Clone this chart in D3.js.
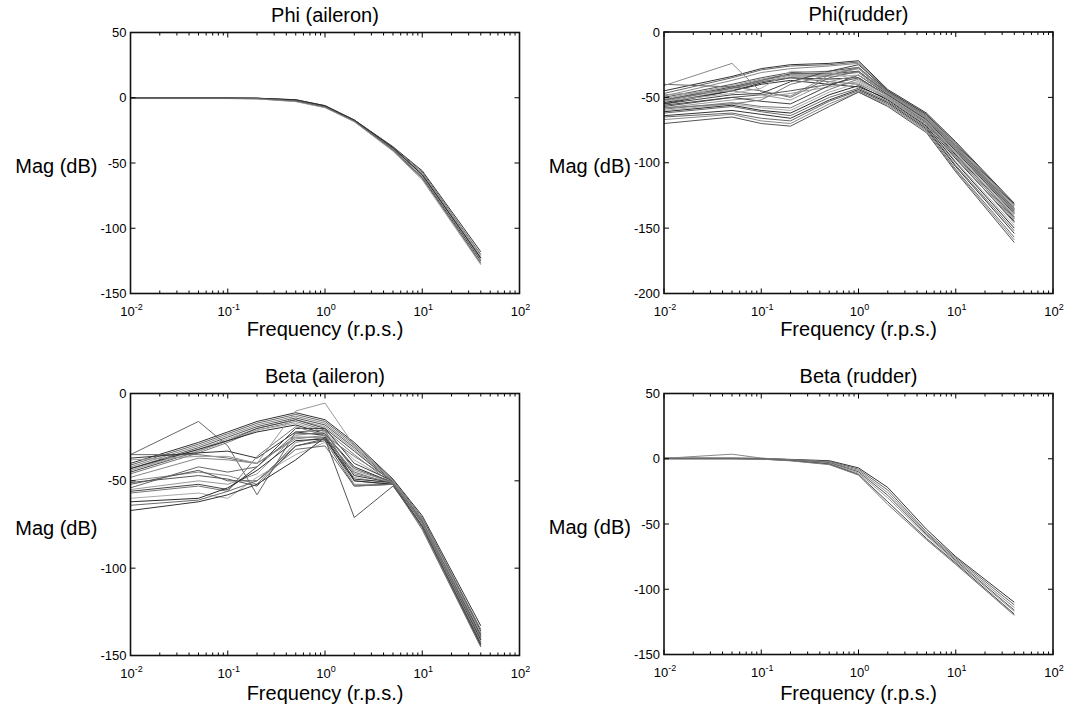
<!DOCTYPE html>
<html>
<head>
<meta charset="utf-8">
<script src="https://cdn.jsdelivr.net/npm/d3@7"></script>
<style>
  body { margin: 0; background: #fff; }
  svg { display: block; font-family: "Liberation Sans", Arial, Helvetica, sans-serif; }
</style>
</head>
<body>
<svg id="chart" width="1066" height="713"></svg>
<script>
// ---------------- DATA ----------------
const freqs = [0.01, 0.05, 0.1, 0.2, 0.5, 1, 2, 5, 10, 40];

const phiAileron = [
  [-0.3,-0.3,-0.3,-0.4,-1.5,-6.0,-17.0,-37.5,-56,-118],
  [-0.3,-0.3,-0.3,-0.4,-1.8,-6.3,-17.2,-38.0,-57,-120],
  [-0.4,-0.4,-0.4,-0.5,-2.0,-6.5,-17.4,-38.5,-58,-121],
  [-0.4,-0.4,-0.4,-0.5,-2.2,-6.7,-17.6,-39.0,-59,-122.5],
  [-0.5,-0.5,-0.5,-0.6,-2.4,-7.0,-17.8,-39.5,-60,-124],
  [-0.5,-0.5,-0.5,-0.7,-2.6,-7.2,-18.0,-40.0,-61,-125],
  [-0.6,-0.6,-0.6,-0.8,-2.8,-7.4,-18.2,-40.5,-62,-126.5],
  [-0.6,-0.6,-0.6,-0.9,-3.0,-7.6,-18.4,-41.0,-63,-128],
  [-0.2,-0.2,-0.2,-0.3,-1.6,-6.2,-17.1,-38.2,-59,-123],
  [-0.5,-0.5,-0.5,-0.6,-2.5,-7.1,-17.9,-39.8,-61.5,-127]
];

const phiRudder = [
  [-45,-34,-28,-25,-24,-22,-44,-62,-84,-131],
  [-47,-35,-29,-26,-25,-23,-45,-63,-86,-133],
  [-49,-37,-31,-28,-26,-24,-46,-64,-87,-134],
  [-50,-40,-35,-31,-30,-27,-46,-65,-88,-135],
  [-51,-41,-36,-32,-31,-28,-47,-66,-89,-136],
  [-52,-42,-37,-32,-32,-30,-47,-66,-90,-137],
  [-53,-43,-37,-33,-33,-31,-48,-67,-91,-138],
  [-54,-44,-38,-34,-34,-33,-48,-68,-92,-140],
  [-55,-45,-39,-35,-36,-35,-49,-69,-94,-141],
  [-52,-43,-38,-35,-38,-40,-50,-70,-95,-143],
  [-54,-45,-40,-37,-40,-42,-51,-71,-97,-145],
  [-40,-42,-45,-50,-35,-30,-47,-66,-89,-137],
  [-41,-24,-46,-49,-33,-28,-46,-65,-88,-136],
  [-57,-50,-48,-45,-40,-35,-49,-68,-93,-142],
  [-58,-52,-50,-47,-42,-38,-50,-69,-95,-144],
  [-56,-50,-53,-55,-41,-33,-48,-67,-91,-139],
  [-59,-54,-57,-58,-44,-36,-49,-69,-96,-146],
  [-60,-55,-58,-60,-46,-39,-51,-71,-99,-148],
  [-61,-56,-60,-62,-48,-41,-52,-72,-100,-150],
  [-62,-57,-61,-64,-50,-43,-53,-73,-102,-152],
  [-64,-60,-63,-66,-52,-44,-54,-74,-103,-154],
  [-65,-62,-66,-68,-53,-45,-55,-75,-105,-157],
  [-67,-63,-68,-70,-55,-46,-56,-76,-106,-159],
  [-70,-65,-70,-72,-57,-46,-57,-77,-107,-161],
  [-48,-45,-48,-52,-38,-33,-47,-66,-90,-138],
  [-55,-48,-47,-38,-30,-25,-45,-63,-85,-132],
  [-58,-55,-52,-40,-33,-27,-46,-64,-87,-135],
  [-53,-47,-43,-30,-31,-37,-49,-68,-93,-141]
];

const betaAileron = [
  [-40,-28,-22,-16,-11,-15,-28,-49,-70,-133],
  [-41,-29,-23,-17,-12,-16,-29,-49.5,-71,-135],
  [-42,-30,-24,-18,-13,-17,-30,-50,-72,-137],
  [-43,-31,-25,-19,-14,-18,-31,-50.5,-73,-139],
  [-44,-32,-26,-20,-15,-19,-32,-51,-74,-141],
  [-45,-33,-27,-20,-15,-20,-33,-51,-76,-143],
  [-46,-34,-28,-21,-16,-21,-35,-52,-78,-145],
  [-44,-33,-27,-21,-17,-22,-38,-51,-74,-140],
  [-43,-32,-27,-22,-18,-23,-42,-51,-73,-138],
  [-35,-35,-37,-40,-25,-25,-45,-52,-75,-141],
  [-37,-34,-33,-37,-22,-24,-47,-51,-74,-140],
  [-35,-16,-30,-58,-22,-21,-50,-52,-75,-142],
  [-50,-45,-47,-52,-28,-25,-52,-52,-76,-143],
  [-52,-44,-50,-50,-30,-27,-53,-52,-74,-139],
  [-55,-50,-52,-46,-24,-22,-44,-51,-73,-137],
  [-56,-52,-55,-42,-20,-20,-40,-50,-72,-136],
  [-57,-53,-56,-36,-19,-24,-36,-50,-74,-140],
  [-60,-57,-60,-48,-35,-28,-48,-52,-75,-142],
  [-62,-60,-54,-44,-27,-26,-50,-52,-76,-144],
  [-64,-61,-56,-50,-32,-30,-53,-52,-77,-145],
  [-67,-62,-58,-52,-38,-25,-49,-51,-74,-141],
  [-54,-42,-45,-42,-23,-23,-43,-51,-73,-139],
  [-48,-37,-38,-40,-26,-24,-46,-51,-74,-140],
  [-51,-47,-49,-53,-30,-26,-71,-53,-76,-143],
  [-38,-36,-36,-40,-10,-5.5,-30,-50,-72,-137]
];

const betaRudder = [
  [0.5,0.5,0.3,-0.5,-1.5,-7,-22,-54,-75,-110],
  [0.4,0.4,0.2,-0.7,-2.0,-8,-24,-56,-76,-112],
  [0.3,3.5,0.5,-0.8,-2.5,-9,-26,-57,-77,-114],
  [0.2,0.2,0,-1.0,-3.0,-10,-28,-58,-78,-116],
  [0.1,0.1,-0.1,-1.2,-3.5,-11,-30,-59,-79,-117],
  [0,0,-0.2,-1.4,-4.0,-12,-33,-61,-80,-119],
  [-0.1,-0.1,-0.3,-1.6,-4.5,-12.5,-35,-62,-81,-120]
];

const titles = ["Phi (aileron)", "Phi(rudder)", "Beta (aileron)", "Beta (rudder)"];
const yTicksPhiAil = [50, 0, -50, -100, -150];
const yTicksPhiRud = [0, -50, -100, -150, -200];
const yTicksBetaAil = [0, -50, -100, -150];
const yTicksBetaRud = [50, 0, -50, -100, -150];
const xMajor = [0.01, 0.1, 1, 10, 100];
const xExponents = ["-2", "-1", "0", "1", "2"];

// ---------------- STYLE / LAYOUT ----------------
const palette = ["#333", "#666", "#888", "#555", "#999", "#444", "#777", "#aaa", "#2a2a2a", "#6a6a6a"];

const panels = [
  { title: titles[0], data: phiAileron, yDomain: [-150, 50], yTicks: yTicksPhiAil, x: 130.5, y: 32.5, w: 389, h: 261 },
  { title: titles[1], data: phiRudder, yDomain: [-200, 0], yTicks: yTicksPhiRud, x: 664, y: 32, w: 389, h: 261.5 },
  { title: titles[2], data: betaAileron, yDomain: [-150, 0], yTicks: yTicksBetaAil, x: 130.5, y: 393.5, w: 389, h: 262 },
  { title: titles[3], data: betaRudder, yDomain: [-150, 50], yTicks: yTicksBetaRud, x: 664, y: 393.5, w: 389, h: 261 }
];
const freqLabelY = [336, 336, 700, 700];

const svg = d3.select("#chart");

panels.forEach((p, pi) => {
  const g = svg.append("g").attr("transform", `translate(${p.x},${p.y})`);
  const xs = d3.scaleLog().domain([0.01, 100]).range([0, p.w]);
  const ys = d3.scaleLinear().domain(p.yDomain).range([p.h, 0]);

  const clipId = "clip" + pi;
  g.append("clipPath").attr("id", clipId).append("rect").attr("width", p.w).attr("height", p.h);

  const line = d3.line().x((d, i) => xs(freqs[i])).y(d => ys(d));
  g.append("g").attr("clip-path", `url(#${clipId})`)
    .selectAll("path").data(p.data).join("path")
    .attr("d", d => line(d))
    .attr("fill", "none")
    .attr("stroke", (d, i) => palette[i % palette.length])
    .attr("stroke-width", 1);

  // minor ticks
  const minor = [];
  for (let e = -2; e < 2; e++) for (let m = 2; m <= 9; m++) minor.push(m * Math.pow(10, e));
  const tg = g.append("g").attr("stroke", "#000").attr("stroke-width", 1);
  minor.forEach(v => {
    const x = xs(v);
    tg.append("line").attr("x1", x).attr("x2", x).attr("y1", p.h).attr("y2", p.h - 3);
    tg.append("line").attr("x1", x).attr("x2", x).attr("y1", 0).attr("y2", 3);
  });
  xMajor.forEach(v => {
    const x = xs(v);
    tg.append("line").attr("x1", x).attr("x2", x).attr("y1", p.h).attr("y2", p.h - 5);
    tg.append("line").attr("x1", x).attr("x2", x).attr("y1", 0).attr("y2", 5);
  });
  p.yTicks.forEach(v => {
    const y = ys(v);
    tg.append("line").attr("x1", 0).attr("x2", 5).attr("y1", y).attr("y2", y);
    tg.append("line").attr("x1", p.w).attr("x2", p.w - 5).attr("y1", y).attr("y2", y);
  });

  // frame
  g.append("rect").attr("width", p.w).attr("height", p.h)
    .attr("fill", "none").attr("stroke", "#111").attr("stroke-width", 1.6);

  // y tick labels
  p.yTicks.forEach(v => {
    g.append("text").attr("x", -4).attr("y", ys(v)).attr("dy", "0.35em")
      .attr("text-anchor", "end").attr("font-size", 13).attr("fill", "#000").text(v);
  });
  // x tick labels
  xMajor.forEach((v, i) => {
    const t = g.append("text").attr("x", xs(v) + 1).attr("y", p.h + 22)
      .attr("text-anchor", "middle").attr("font-size", 13).attr("fill", "#000");
    t.append("tspan").text("10");
    t.append("tspan").attr("dy", -6).attr("font-size", 9).text(xExponents[i]);
  });

  // title
  g.append("text").attr("x", p.w / 2).attr("y", -11).attr("text-anchor", "middle")
    .attr("font-size", 20).attr("fill", "#000").text(p.title);
  // x label
  g.append("text").attr("x", p.w / 2).attr("y", freqLabelY[pi] - p.y).attr("text-anchor", "middle")
    .attr("font-size", 20).attr("fill", "#000").text("Frequency (r.p.s.)");
  // y label
  g.append("text").attr("x", -33).attr("y", p.h / 2 + 3).attr("dy", "0.35em")
    .attr("text-anchor", "end").attr("font-size", 20).attr("fill", "#000").text("Mag (dB)");
});
</script>
</body>
</html>
